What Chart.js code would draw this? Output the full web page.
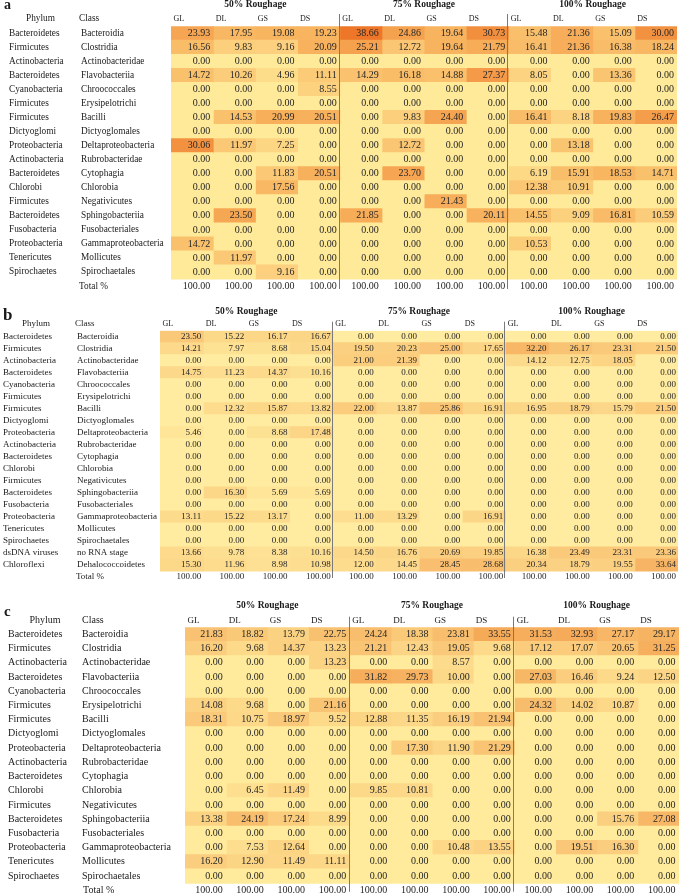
<!DOCTYPE html>
<html>
<head>
<meta charset="utf-8">
<script src="https://cdn.jsdelivr.net/npm/chart.js@4.4.0/dist/chart.umd.min.js"></script>
<style>
  html, body { margin: 0; padding: 0; background: #fff; overflow: hidden; }
  #page { position: relative; width: 685px; height: 896px; overflow: hidden; }
  canvas { position: absolute; left: 0; }
</style>
</head>
<body>
<div id="page">
  <canvas id="chartA" width="685" height="300" style="top:0px"></canvas>
  <canvas id="chartB" width="685" height="290" style="top:300px"></canvas>
  <canvas id="chartC" width="685" height="310" style="top:590px"></canvas>
</div>
<script>
// column groups and diets
const groups = ['50% Roughage', '75% Roughage', '100% Roughage'];
const diets = ['GL', 'DL', 'GS', 'DS'];

// ---- panel a ----
const phylaA = ['Bacteroidetes', 'Firmicutes', 'Actinobacteria', 'Bacteroidetes', 'Cyanobacteria', 'Firmicutes',
    'Firmicutes', 'Dictyoglomi', 'Proteobacteria', 'Actinobacteria', 'Bacteroidetes', 'Chlorobi', 'Firmicutes',
    'Bacteroidetes', 'Fusobacteria', 'Proteobacteria', 'Tenericutes', 'Spirochaetes'];
const classesA = ['Bacteroidia', 'Clostridia', 'Actinobacteridae', 'Flavobacteriia', 'Chroococcales', 'Erysipelotrichi',
    'Bacilli', 'Dictyoglomales', 'Deltaproteobacteria', 'Rubrobacteridae', 'Cytophagia', 'Chlorobia', 'Negativicutes',
    'Sphingobacteriia', 'Fusobacteriales', 'Gammaproteobacteria', 'Mollicutes', 'Spirochaetales'];
const valuesA = [
    [23.93, 17.95, 19.08, 19.23, 38.66, 24.86, 19.64, 30.73, 15.48, 21.36, 15.09, 30.00],
    [16.56, 9.83, 9.16, 20.09, 25.21, 12.72, 19.64, 21.79, 16.41, 21.36, 16.38, 18.24],
    [0, 0, 0, 0, 0, 0, 0, 0, 0, 0, 0, 0],
    [14.72, 10.26, 4.96, 11.11, 14.29, 16.18, 14.88, 27.37, 8.05, 0, 13.36, 0],
    [0, 0, 0, 8.55, 0, 0, 0, 0, 0, 0, 0, 0],
    [0, 0, 0, 0, 0, 0, 0, 0, 0, 0, 0, 0],
    [0, 14.53, 20.99, 20.51, 0, 9.83, 24.40, 0, 16.41, 8.18, 19.83, 26.47],
    [0, 0, 0, 0, 0, 0, 0, 0, 0, 0, 0, 0],
    [30.06, 11.97, 7.25, 0, 0, 12.72, 0, 0, 0, 13.18, 0, 0],
    [0, 0, 0, 0, 0, 0, 0, 0, 0, 0, 0, 0],
    [0, 0, 11.83, 20.51, 0, 23.70, 0, 0, 6.19, 15.91, 18.53, 14.71],
    [0, 0, 17.56, 0, 0, 0, 0, 0, 12.38, 10.91, 0, 0],
    [0, 0, 0, 0, 0, 0, 21.43, 0, 0, 0, 0, 0],
    [0, 23.50, 0, 0, 21.85, 0, 0, 20.11, 14.55, 9.09, 16.81, 10.59],
    [0, 0, 0, 0, 0, 0, 0, 0, 0, 0, 0, 0],
    [14.72, 0, 0, 0, 0, 0, 0, 0, 10.53, 0, 0, 0],
    [0, 11.97, 0, 0, 0, 0, 0, 0, 0, 0, 0, 0],
    [0, 0, 9.16, 0, 0, 0, 0, 0, 0, 0, 0, 0]
];
const totalsA = [100, 100, 100, 100, 100, 100, 100, 100, 100, 100, 100, 100];

// ---- panel b ----
const phylaB = ['Bacteroidetes', 'Firmicutes', 'Actinobacteria', 'Bacteroidetes', 'Cyanobacteria', 'Firmicutes',
    'Firmicutes', 'Dictyoglomi', 'Proteobacteria', 'Actinobacteria', 'Bacteroidetes', 'Chlorobi', 'Firmicutes',
    'Bacteroidetes', 'Fusobacteria', 'Proteobacteria', 'Tenericutes', 'Spirochaetes', 'dsDNA viruses', 'Chloroflexi'];
const classesB = ['Bacteroidia', 'Clostridia', 'Actinobacteridae', 'Flavobacteriia', 'Chroococcales', 'Erysipelotrichi',
    'Bacilli', 'Dictyoglomales', 'Deltaproteobacteria', 'Rubrobacteridae', 'Cytophagia', 'Chlorobia', 'Negativicutes',
    'Sphingobacteriia', 'Fusobacteriales', 'Gammaproteobacteria', 'Mollicutes', 'Spirochaetales', 'no RNA stage',
    'Dehalococcoidetes'];
const valuesB = [
    [23.50, 15.22, 16.17, 16.67, 0, 0, 0, 0, 0, 0, 0, 0],
    [14.21, 7.97, 8.68, 15.04, 19.50, 20.23, 25.00, 17.65, 32.20, 26.17, 23.31, 21.50],
    [0, 0, 0, 0, 21.00, 21.39, 0, 0, 14.12, 12.75, 18.05, 0],
    [14.75, 11.23, 14.37, 10.16, 0, 0, 0, 0, 0, 0, 0, 0],
    [0, 0, 0, 0, 0, 0, 0, 0, 0, 0, 0, 0],
    [0, 0, 0, 0, 0, 0, 0, 0, 0, 0, 0, 0],
    [0, 12.32, 15.87, 13.82, 22.00, 13.87, 25.86, 16.91, 16.95, 18.79, 15.79, 21.50],
    [0, 0, 0, 0, 0, 0, 0, 0, 0, 0, 0, 0],
    [5.46, 0, 8.68, 17.48, 0, 0, 0, 0, 0, 0, 0, 0],
    [0, 0, 0, 0, 0, 0, 0, 0, 0, 0, 0, 0],
    [0, 0, 0, 0, 0, 0, 0, 0, 0, 0, 0, 0],
    [0, 0, 0, 0, 0, 0, 0, 0, 0, 0, 0, 0],
    [0, 0, 0, 0, 0, 0, 0, 0, 0, 0, 0, 0],
    [0, 16.30, 5.69, 5.69, 0, 0, 0, 0, 0, 0, 0, 0],
    [0, 0, 0, 0, 0, 0, 0, 0, 0, 0, 0, 0],
    [13.11, 15.22, 13.17, 0, 11.00, 13.29, 0, 16.91, 0, 0, 0, 0],
    [0, 0, 0, 0, 0, 0, 0, 0, 0, 0, 0, 0],
    [0, 0, 0, 0, 0, 0, 0, 0, 0, 0, 0, 0],
    [13.66, 9.78, 8.38, 10.16, 14.50, 16.76, 20.69, 19.85, 16.38, 23.49, 23.31, 23.36],
    [15.30, 11.96, 8.98, 10.98, 12.00, 14.45, 28.45, 28.68, 20.34, 18.79, 19.55, 33.64]
];
const totalsB = [100, 100, 100, 100, 100, 100, 100, 100, 100, 100, 100, 100];

// ---- panel c ----
const phylaC = phylaA;
const classesC = ['Bacteroidia', 'Clostridia', 'Actinobacteridae', 'Flavobacteriia', 'Chroococcales', 'Erysipelotrichi',
    'Bacilli', 'Dictyoglomales', 'Deltaproteobacteria', 'Rubrobacteridae', 'Cytophagia', 'Chlorobia', 'Negativicutes',
    'Sphingobacteriia', 'Fusobacteriales', 'Gammaproteobacteria', 'Mollicutes', 'Spirochaetales'];
const valuesC = [
    [21.83, 18.82, 13.79, 22.75, 24.24, 18.38, 23.81, 33.55, 31.53, 32.93, 27.17, 29.17],
    [16.20, 9.68, 14.37, 13.23, 21.21, 12.43, 19.05, 9.68, 17.12, 17.07, 20.65, 31.25],
    [0, 0, 0, 13.23, 0, 0, 8.57, 0, 0, 0, 0, 0],
    [0, 0, 0, 0, 31.82, 29.73, 10.00, 0, 27.03, 16.46, 9.24, 12.50],
    [0, 0, 0, 0, 0, 0, 0, 0, 0, 0, 0, 0],
    [14.08, 9.68, 0, 21.16, 0, 0, 0, 0, 24.32, 14.02, 10.87, 0],
    [18.31, 10.75, 18.97, 9.52, 12.88, 11.35, 16.19, 21.94, 0, 0, 0, 0],
    [0, 0, 0, 0, 0, 0, 0, 0, 0, 0, 0, 0],
    [0, 0, 0, 0, 0, 17.30, 11.90, 21.29, 0, 0, 0, 0],
    [0, 0, 0, 0, 0, 0, 0, 0, 0, 0, 0, 0],
    [0, 0, 0, 0, 0, 0, 0, 0, 0, 0, 0, 0],
    [0, 6.45, 11.49, 0, 9.85, 10.81, 0, 0, 0, 0, 0, 0],
    [0, 0, 0, 0, 0, 0, 0, 0, 0, 0, 0, 0],
    [13.38, 24.19, 17.24, 8.99, 0, 0, 0, 0, 0, 0, 15.76, 27.08],
    [0, 0, 0, 0, 0, 0, 0, 0, 0, 0, 0, 0],
    [0, 7.53, 12.64, 0, 0, 0, 10.48, 13.55, 0, 19.51, 16.30, 0],
    [16.20, 12.90, 11.49, 11.11, 0, 0, 0, 0, 0, 0, 0, 0],
    [0, 0, 0, 0, 0, 0, 0, 0, 0, 0, 0, 0]
];
const totalsC = [100, 100, 100, 100, 100, 100, 100, 100, 100, 100, 100, 100];

const serif = "'Liberation Serif', 'Times New Roman', serif";

// colour ramp: pale yellow -> orange
function rampColor(v, max, stops) {
    var t = Math.max(0, Math.min(1, v / max));
    for (var i = 1; i < stops.length; i++) {
        if (t <= stops[i][0]) {
            var a = stops[i - 1], b = stops[i];
            var f = (t - a[0]) / (b[0] - a[0]);
            var c = [0, 1, 2].map(function (k) { return Math.round(a[1][k] + (b[1][k] - a[1][k]) * f); });
            return 'rgb(' + c.join(',') + ')';
        }
    }
    var last = stops[stops.length - 1][1];
    return 'rgb(' + last.join(',') + ')';
}

function makePanel(id, letter, phyla, classes, values, totals, look) {
    var max = Math.max.apply(null, values.map(function (r) { return Math.max.apply(null, r); }));
    var labels = classes.concat(['Total %']);
    var datasets = [];
    for (var j = 0; j < 12; j++) {
        datasets.push({
            data: values.map(function () { return [j, j + 1]; }),
            backgroundColor: values.map(function (r) { return rampColor(r[j], max, look.stops); }),
            borderWidth: 0,
            inflateAmount: 0.5
        });
    }

    var textPlugin = {
        id: 'tableText',
        afterDraw: function (chart) {
            var ctx = chart.ctx, xs = chart.scales.x, ys = chart.scales.y;
            ctx.save();
            ctx.fillStyle = '#1a1a1a';
            ctx.textBaseline = 'alphabetic';
            ctx.font = 'bold ' + look.letterSize + 'px ' + serif;
            ctx.textAlign = 'left';
            ctx.fillText(letter, look.letterX, look.letterY);

            ctx.textBaseline = 'middle';
            ctx.font = 'bold ' + look.titleSize + 'px ' + serif;
            ctx.textAlign = 'center';
            groups.forEach(function (g, gi) {
                var cx = (xs.getPixelForValue(gi * 4) + xs.getPixelForValue(gi * 4 + 4)) / 2;
                ctx.fillText(g, cx, look.titleY);
            });

            ctx.font = look.headSize + 'px ' + serif;
            ctx.textAlign = 'left';
            for (var j = 0; j < 12; j++) {
                ctx.fillText(diets[j % 4], xs.getPixelForValue(j) + 2.5, look.headY);
            }
            ctx.font = look.labelSize + 'px ' + serif;
            ctx.textAlign = 'center';
            ctx.fillText('Phylum', look.phylumHeadX, look.headY);
            ctx.textAlign = 'left';
            ctx.fillText('Class', look.classHeadX, look.headY);

            phyla.forEach(function (p, i) {
                var yy = ys.getPixelForValue(i);
                ctx.fillText(p, look.phylumX, yy);
                ctx.fillText(classes[i], look.classX, yy);
            });
            var ty = ys.getPixelForValue(labels.length - 1);
            ctx.fillText('Total %', look.totalX, ty);

            ctx.font = look.valueSize + 'px ' + serif;
            ctx.textAlign = 'right';
            ctx.fillStyle = '#262626';
            values.forEach(function (row, i) {
                var yy = ys.getPixelForValue(i);
                row.forEach(function (v, j) {
                    ctx.fillText(v.toFixed(2), xs.getPixelForValue(j + 1) - look.valuePad, yy);
                });
            });
            totals.forEach(function (v, j) {
                ctx.fillText(v.toFixed(2), xs.getPixelForValue(j + 1) - look.valuePad, ty);
            });

            // group separators
            ctx.strokeStyle = '#7a7a7a';
            ctx.lineWidth = 1;
            [4, 8].forEach(function (k) {
                var px = Math.round(xs.getPixelForValue(k)) - 0.5;
                ctx.beginPath();
                ctx.moveTo(px, look.sepTop);
                ctx.lineTo(px, look.sepBottom);
                ctx.stroke();
            });
            ctx.restore();
        }
    };

    var H = document.getElementById(id).height;
    return new Chart(document.getElementById(id), {
        type: 'bar',
        data: { labels: labels, datasets: datasets },
        options: {
            indexAxis: 'y',
            responsive: false,
            animation: false,
            devicePixelRatio: 1,
            grouped: false,
            barPercentage: 1,
            categoryPercentage: 1,
            layout: {
                padding: { left: look.left, right: 685 - look.right, top: look.top, bottom: H - look.bottom }
            },
            scales: {
                x: { type: 'linear', min: 0, max: 12, display: false },
                y: { type: 'category', display: false }
            },
            plugins: { legend: { display: false }, tooltip: { enabled: false } }
        },
        plugins: [textPlugin]
    });
}

makePanel('chartA', 'a', phylaA, classesA, valuesA, totalsA, {
    left: 171, right: 677, top: 26.3, bottom: 293.1,
    letterX: 4, letterY: 9, letterSize: 14,
    titleY: 5, titleSize: 9.5, headY: 19, headSize: 8,
    phylumHeadX: 40.5, classHeadX: 79, phylumX: 9, classX: 81, totalX: 79,
    labelSize: 9.3, valueSize: 10, valuePad: 3,
    sepTop: 14, sepBottom: 289,
    stops: [[0, [255, 234, 153]], [0.5, [248, 180, 95]], [1, [238, 118, 40]]]
});

makePanel('chartB', 'b', phylaB, classesB, valuesB, totalsB, {
    left: 160, right: 678, top: 30.7, bottom: 283.1,
    letterX: 3, letterY: 20, letterSize: 17,
    titleY: 12, titleSize: 9.5, headY: 24, headSize: 8,
    phylumHeadX: 36, classHeadX: 75, phylumX: 3, classX: 77, totalX: 76,
    labelSize: 9, valueSize: 9, valuePad: 2,
    sepTop: 21.7, sepBottom: 278,
    stops: [[0, [255, 236, 160]], [0.5, [252, 214, 135]], [1, [247, 180, 100]]]
});

makePanel('chartC', 'c', phylaC, classesC, valuesC, totalsC, {
    left: 185, right: 679, top: 37.2, bottom: 307.4,
    letterX: 4, letterY: 26, letterSize: 15,
    titleY: 16, titleSize: 9.5, headY: 30.7, headSize: 9,
    phylumHeadX: 45, classHeadX: 82, phylumX: 8, classX: 82, totalX: 83,
    labelSize: 10, valueSize: 10, valuePad: 3.5,
    sepTop: 26.7, sepBottom: 301.7,
    stops: [[0, [255, 235, 155]], [0.5, [250, 205, 125]], [1, [245, 170, 88]]]
});
</script>
</body>
</html>
